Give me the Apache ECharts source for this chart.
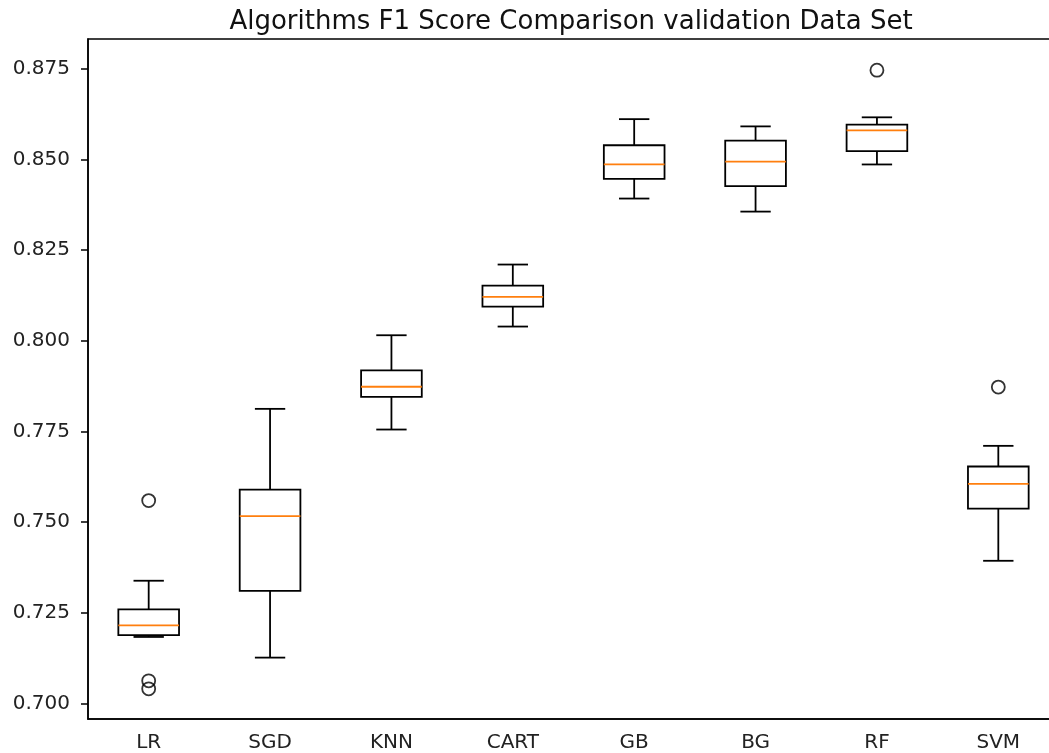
<!DOCTYPE html>
<html>
<head>
<meta charset="utf-8">
<script src="https://cdn.jsdelivr.net/npm/echarts@6/dist/echarts.min.js"></script>
<style>html,body{margin:0;padding:0;background:#fff}#chart{width:1049px;height:753px}</style>
</head>
<body>
<div id="chart"></div>
<script>
var categories = ['LR', 'SGD', 'KNN', 'CART', 'GB', 'BG', 'RF', 'SVM'];
var whiskerLow  = [0.7183, 0.7126, 0.7755, 0.8039, 0.8392, 0.8356, 0.8486, 0.7393];
var q1          = [0.7188, 0.7310, 0.7845, 0.8094, 0.8446, 0.8426, 0.8523, 0.7537];
var median      = [0.7215, 0.7516, 0.7873, 0.8121, 0.8486, 0.8494, 0.8580, 0.7605];
var q3          = [0.7259, 0.7589, 0.7918, 0.8152, 0.8539, 0.8552, 0.8596, 0.7653];
var whiskerHigh = [0.7338, 0.7812, 0.8015, 0.8210, 0.8611, 0.8591, 0.8616, 0.7710];
var outliers = [['LR', 0.7559], ['LR', 0.7062], ['LR', 0.7040], ['RF', 0.8746], ['SVM', 0.7872]];
var yTicks = [0.700, 0.725, 0.750, 0.775, 0.800, 0.825, 0.850, 0.875];

var boxData = categories.map(function (c, i) {
  return [i, whiskerLow[i], q1[i], median[i], q3[i], whiskerHigh[i]];
});

var chart = echarts.init(document.getElementById('chart'));
var FONT = 'DejaVu Sans';
chart.setOption({
  animation: false,
  title: {
    text: 'Algorithms F1 Score Comparison validation Data Set',
    left: 566, top: 4, textAlign: 'center',
    textStyle: { fontFamily: FONT, fontSize: 26, fontWeight: 'normal', color: '#111' }
  },
  grid: {
    left: 88, top: 39, right: -10, bottom: 34,
    outerBoundsMode: 'none',
    show: true, borderColor: '#000', borderWidth: 1.5, backgroundColor: '#fff'
  },
  xAxis: {
    type: 'category', data: categories, boundaryGap: true,
    axisLine: { lineStyle: { color: '#000', width: 1.5 } },
    axisTick: { alignWithLabel: true, length: 7, lineStyle: { color: '#000', width: 1.5 } },
    axisLabel: { fontFamily: FONT, fontSize: 20, color: '#222', margin: 14 },
    splitLine: { show: false }
  },
  yAxis: {
    type: 'value', min: 0.69567, max: 0.8832, scale: true,
    axisLine: { show: true, lineStyle: { color: '#000', width: 1.5 } },
    axisTick: { show: true, length: 7, customValues: yTicks, lineStyle: { color: '#000', width: 1.5 } },
    axisLabel: { fontFamily: FONT, fontSize: 20, color: '#222', margin: 18, customValues: yTicks,
      formatter: function (v) { return v.toFixed(3); } },
    splitLine: { show: false }
  },
  series: [
    {
      type: 'custom',
      data: boxData,
      encode: { x: 0, y: [1, 2, 3, 4, 5] },
      renderItem: function (params, api) {
        var idx = api.value(0);
        var pLow = api.coord([idx, api.value(1)]);
        var pQ1 = api.coord([idx, api.value(2)]);
        var pMed = api.coord([idx, api.value(3)]);
        var pQ3 = api.coord([idx, api.value(4)]);
        var pHigh = api.coord([idx, api.value(5)]);
        var band = api.size([1, 0])[0];
        var bw = band * 0.5;
        var cw = bw * 0.5;
        var x = pQ1[0];
        var st = { stroke: '#000', lineWidth: 1.8, fill: null };
        return {
          type: 'group',
          children: [
            { type: 'line', shape: { x1: x, y1: pQ1[1], x2: x, y2: pLow[1] }, style: st },
            { type: 'line', shape: { x1: x, y1: pQ3[1], x2: x, y2: pHigh[1] }, style: st },
            { type: 'line', shape: { x1: x - cw / 2, y1: pLow[1], x2: x + cw / 2, y2: pLow[1] }, style: st },
            { type: 'line', shape: { x1: x - cw / 2, y1: pHigh[1], x2: x + cw / 2, y2: pHigh[1] }, style: st },
            { type: 'rect', shape: { x: x - bw / 2, y: pQ3[1], width: bw, height: pQ1[1] - pQ3[1] },
              style: { stroke: '#000', lineWidth: 1.8, fill: 'rgba(255,255,255,0)' } },
            { type: 'line', shape: { x1: x - bw / 2, y1: pMed[1], x2: x + bw / 2, y2: pMed[1] },
              style: { stroke: '#ff7f0e', lineWidth: 1.8 } }
          ]
        };
      }
    },
    {
      type: 'scatter',
      data: outliers,
      symbol: 'circle',
      symbolSize: 13,
      itemStyle: { color: 'rgba(255,255,255,0)', borderColor: '#000', borderWidth: 1.8 }
    }
  ]
});
</script>
</body>
</html>
